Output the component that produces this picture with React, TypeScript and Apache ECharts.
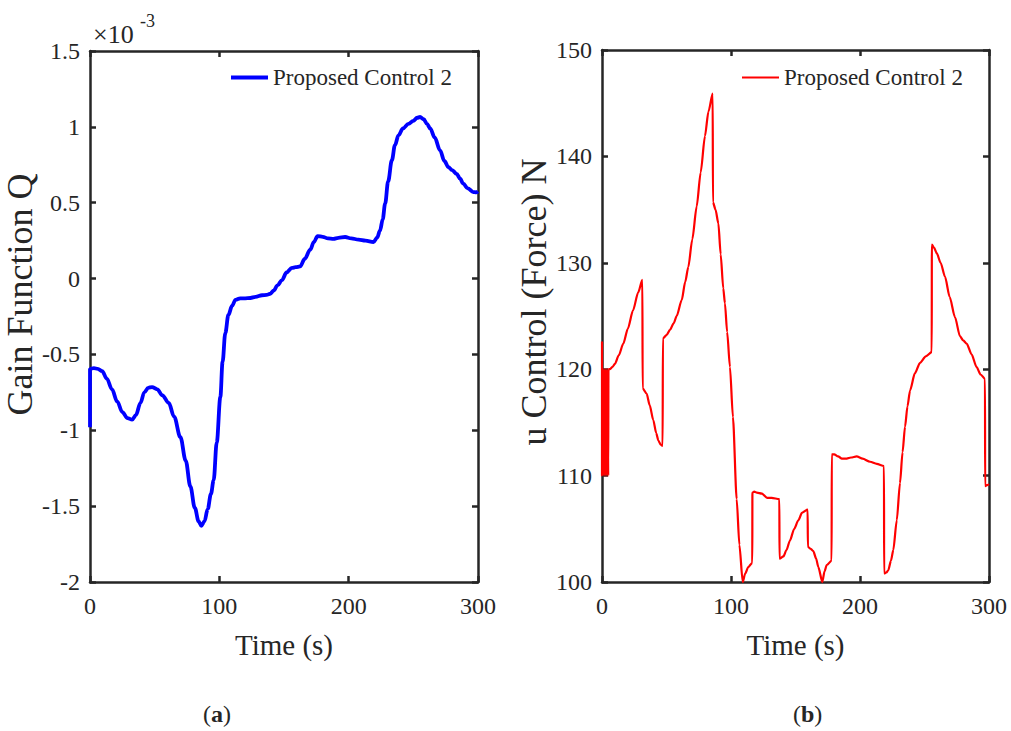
import React, { useEffect, useRef } from "react";
import * as echarts from "echarts";

// Panel (a): Gain function Q (units of 1e-3) vs time (s)
const gainT = [0, 0, 3, 6, 9.4, 13, 17, 21, 25, 29, 32.6, 35.5, 39, 42, 45, 48, 52, 56, 60.9, 65, 69.9, 74, 77.6, 81, 84, 86.1, 88.5, 91, 93.5, 95.6, 98, 100.8, 102.5, 104.6, 107, 109.8, 112.5, 116.2, 120, 124, 128, 133, 136.5, 139.4, 142, 145, 148.4, 152, 156.1, 159, 162.5, 166, 170.3, 173, 176, 180, 184, 188.3, 192, 197.3, 202, 207.6, 213, 219.2, 222, 224.3, 226.3, 228.2, 230.5, 233.4, 235.8, 238.5, 242, 246.2, 250, 253, 255.2, 258, 260.5, 263, 266.5, 270.7, 274, 277.1, 280, 283.5, 286, 288.6, 292, 296.4, 298.5, 300];
const gainQ = [-0.98, -0.595, -0.59, -0.595, -0.61, -0.66, -0.73, -0.81, -0.88, -0.92, -0.93, -0.9, -0.82, -0.75, -0.72, -0.715, -0.73, -0.77, -0.82, -0.91, -1.045, -1.2, -1.37, -1.51, -1.6, -1.63, -1.6, -1.52, -1.42, -1.33, -1.08, -0.78, -0.55, -0.36, -0.24, -0.18, -0.14, -0.13, -0.13, -0.128, -0.12, -0.11, -0.108, -0.1, -0.08, -0.045, -0.01, 0.04, 0.07, 0.075, 0.08, 0.13, 0.19, 0.24, 0.28, 0.275, 0.265, 0.262, 0.268, 0.274, 0.265, 0.257, 0.25, 0.241, 0.27, 0.318, 0.39, 0.494, 0.64, 0.78, 0.88, 0.944, 0.99, 1.02, 1.04, 1.06, 1.065, 1.05, 1.02, 0.99, 0.93, 0.845, 0.775, 0.735, 0.715, 0.69, 0.66, 0.626, 0.595, 0.57, 0.568, 0.575];

// Panel (b): u control force (N) vs time (s)
const forceT = [0, 0, 0.4, 0.8, 1.2, 1.6, 2.0, 2.4, 2.8, 3.2, 3.6, 4.0, 4.4, 4.8, 5.0, 6, 8, 10, 13, 16.5, 20, 24, 28, 31.3, 31.5, 34.6, 37, 39.8, 42, 43.7, 45.5, 47, 47.2, 50, 52.7, 55.5, 57.9, 61.8, 64.5, 66.9, 70, 73.4, 76.5, 79.8, 82.5, 85.8, 86, 88, 90.2, 92, 94, 95.3, 97, 99.2, 101.5, 104.4, 106.5, 109.1, 111, 113.4, 116.5, 116.6, 118, 120, 124, 128, 131.5, 137.5, 137.6, 140.6, 143, 145.7, 149, 152.2, 155, 159.4, 159.6, 162, 163.8, 166, 167.7, 170.8, 172.5, 174.2, 178, 178.1, 180, 183, 186, 189.7, 193, 197.4, 202, 207.8, 213, 218.6, 218.7, 220.5, 221.9, 224, 225.8, 228.5, 231, 233, 234.9, 236.8, 238.8, 242.5, 246.5, 251, 255.6, 255.7, 257.5, 259.5, 262.5, 265.9, 269.5, 273.6, 277.5, 280, 282.7, 286.5, 290.4, 293.5, 296.9, 297, 298.5, 300];
const forceU = [122.6, 110, 120, 110, 120, 110, 120, 110, 120, 110, 120, 110, 120, 110, 120, 120, 120.2, 120.5, 121.3, 122.4, 123.8, 125.5, 127.2, 128.4, 118.2, 117.7, 116.6, 115.2, 114, 113.3, 112.9, 112.8, 122.9, 123.2, 123.7, 124.3, 125, 126.5, 128.2, 129.6, 132.2, 135.3, 138.5, 141.9, 144.2, 145.9, 135.7, 135, 133.7, 130.8, 127.6, 126.2, 123.5, 120.2, 115.5, 107.8, 103.5, 100, 100.8, 101.4, 101.8, 108.4, 108.5, 108.4, 108.3, 107.9, 107.9, 107.8, 102.2, 102.4, 103, 103.9, 105, 105.8, 106.5, 106.8, 103.3, 103.1, 102.9, 102.2, 101.4, 100, 101, 101.6, 102, 112, 112, 111.8, 111.6, 111.6, 111.7, 111.8, 111.6, 111.3, 111.1, 110.9, 100.8, 100.9, 101.1, 102, 103, 105.8, 109.3, 112.2, 114.6, 116.5, 118, 119.6, 120.6, 121.2, 121.6, 131.7, 131.4, 130.9, 130, 128.7, 126.8, 124.9, 123.1, 122.7, 122.4, 121.4, 120.2, 119.5, 119.1, 109, 109.1, 109.2];

const xTicksMax = 300;
const gainTicks = { min: -2, max: 1.5, interval: 0.5 };
const forceTicks = { min: 100, max: 150, interval: 10 };
const legendName = "Proposed Control 2";

const FONT = '"Liberation Serif", "Times New Roman", serif';
const INK = "#262626";

export default function App() {
  const ref = useRef<HTMLDivElement>(null);
  useEffect(() => {
    if (!ref.current) return;
    const chart = echarts.init(ref.current, undefined, { renderer: "svg" });
    const axisLine = { show: true, onZero: false, lineStyle: { color: INK, width: 2.5 } };
    const axisTick = { show: true, inside: true, length: 6, lineStyle: { color: INK, width: 2.5 } };
    const label = { fontSize: 24, fontFamily: FONT, color: INK };
    const grids = [
      { left: 90, top: 51, width: 388, height: 531 },
      { left: 602, top: 50, width: 387, height: 532 },
    ];
    const xAxes: any[] = [];
    const yAxes: any[] = [];
    [0, 1].forEach((g) => {
      xAxes.push({
        gridIndex: g, type: "value", min: 0, max: xTicksMax, interval: 100, position: "bottom",
        axisLine, axisTick, splitLine: { show: false },
        axisLabel: { ...label, margin: 12 },
        name: "Time (s)", nameLocation: "middle", nameGap: 48,
        nameTextStyle: { fontSize: 29, fontFamily: FONT, color: INK },
      });
      xAxes.push({
        gridIndex: g, type: "value", min: 0, max: xTicksMax, interval: 100, position: "top",
        axisLine, axisTick, splitLine: { show: false }, axisLabel: { show: false },
      });
      const t = g === 0 ? gainTicks : forceTicks;
      yAxes.push({
        gridIndex: g, type: "value", min: t.min, max: t.max, interval: t.interval, position: "left",
        axisLine, axisTick, splitLine: { show: false },
        axisLabel: { ...label, margin: 10 },
        name: g === 0 ? "Gain Function Q" : "u Control (Force) N",
        nameLocation: "middle", nameGap: g === 0 ? 50 : 48,
        nameTextStyle: {
          fontSize: 36, fontFamily: FONT, color: INK,
          padding: g === 0 ? [0, 0, 0, 44] : [0, 0, 0, 28],
        },
      });
      yAxes.push({
        gridIndex: g, type: "value", min: t.min, max: t.max, interval: t.interval, position: "right",
        axisLine, axisTick, splitLine: { show: false }, axisLabel: { show: false },
      });
    });
    const legendBase = {
      top: 66, padding: 0, itemWidth: 37, selectedMode: false, icon: "rect",
      formatter: () => legendName,
      textStyle: { fontSize: 23, fontFamily: FONT, color: INK },
    };
    chart.setOption({
      animation: false,
      backgroundColor: "#ffffff",
      grid: grids,
      xAxis: xAxes,
      yAxis: yAxes,
      legend: [
        { ...legendBase, left: 231, itemHeight: 4, data: [legendName + " (a)"] },
        { ...legendBase, left: 742, itemHeight: 2.2, data: [legendName + " (b)"] },
      ],
      series: [
        {
          name: legendName + " (a)", type: "line", xAxisIndex: 0, yAxisIndex: 0,
          data: gainT.map((t, i) => [t, gainQ[i]]),
          showSymbol: false, symbol: "none", smooth: 0.35, smoothMonotone: "x",
          lineStyle: { color: "#0000ff", width: 3.8 }, itemStyle: { color: "#0000ff" },
        },
        {
          name: legendName + " (b)", type: "line", xAxisIndex: 2, yAxisIndex: 2,
          data: forceT.map((t, i) => [t, forceU[i]]),
          showSymbol: false, symbol: "none", smooth: 0.25, smoothMonotone: "x",
          lineStyle: { color: "#ff0000", width: 2.2 }, itemStyle: { color: "#ff0000" },
        },
      ],
      graphic: [
        { type: "text", left: 93, top: 21, style: { text: "×10", fontSize: 26, fontFamily: FONT, fill: INK } },
        { type: "text", left: 140, top: 12, style: { text: "-3", fontSize: 18, fontFamily: FONT, fill: INK } },
        {
          type: "text", left: 203, top: 702,
          style: {
            text: "({b|a})", fontSize: 24, fontFamily: FONT, fill: INK,
            rich: { b: { fontSize: 24, fontWeight: "bold", fontFamily: FONT, fill: INK } },
          },
        },
        {
          type: "text", left: 793, top: 702,
          style: {
            text: "({b|b})", fontSize: 24, fontFamily: FONT, fill: INK,
            rich: { b: { fontSize: 24, fontWeight: "bold", fontFamily: FONT, fill: INK } },
          },
        },
      ],
    });
    return () => chart.dispose();
  }, []);
  return (
    <div
      ref={ref}
      style={{ position: "absolute", left: 0, top: 0, width: 1011, height: 731, background: "#fff" }}
    />
  );
}
